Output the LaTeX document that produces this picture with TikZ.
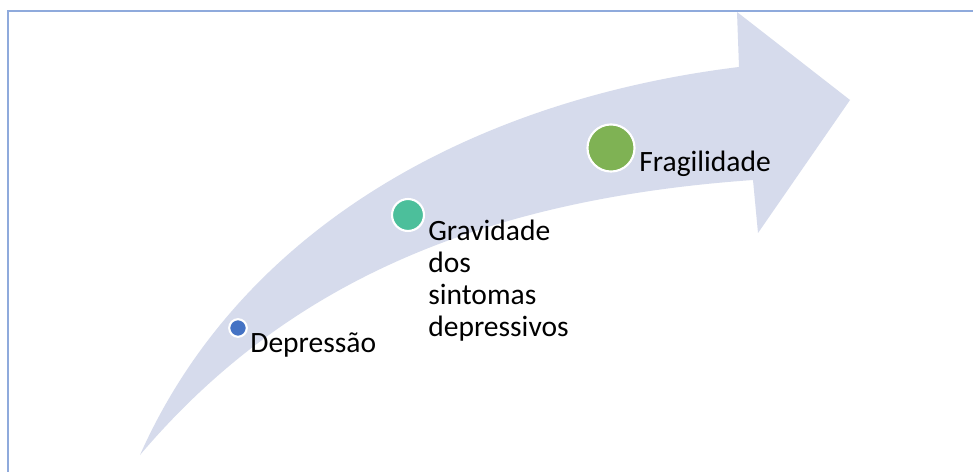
\documentclass[tikz,border=0pt]{standalone}
\usepackage{fontspec}
\setmainfont{Carlito}
\definecolor{band}{RGB}{214,219,236}
\definecolor{frame}{RGB}{143,170,220}
\definecolor{dotblue}{RGB}{68,114,196}
\definecolor{dotteal}{RGB}{76,191,155}
\definecolor{dotgreen}{RGB}{127,178,84}
\tikzset{
  dot/.style={circle, draw=white, line width=1.2pt, inner sep=0pt},
  lbl/.style={anchor=base west, inner sep=0pt, align=left, text=black,
    font=\fontsize{16.8}{18.4}\selectfont},
}
\begin{document}
\begin{tikzpicture}[x=0.02cm, y=-0.02cm]
\useasboundingbox (0,0) rectangle (973,472);
\clip (0,0) rectangle (973,472);
\fill[white] (0,0) rectangle (973,472);
% frame (only top and left sides visible)
\draw[frame, line width=1.5pt] (8,11) rectangle (1000,500);
% curved arrow
\fill[band] (140,455) .. controls (240,230) and (470,100) .. (739,67)
  -- (737,12) -- (850,100) -- (758,233) -- (753,180)
  .. controls (470,200) and (280,290) .. (140,455) -- cycle;
% dots
\node[dot, fill=dotblue, minimum size=10pt] (d1) at (238,328) {};
\node[dot, fill=dotteal, minimum size=18.2pt] (d2) at (408,215) {};
\node[dot, fill=dotgreen, minimum size=26.8pt] (d3) at (611,148) {};
% labels
\node[lbl] (t1) at (250,353) {Depressão};
\node[lbl] (t2) at (428,337) {Gravidade\\dos\\sintomas\\depressivos};
\node[lbl] (t3) at (639,172) {Fragilidade};
\end{tikzpicture}
\end{document}
